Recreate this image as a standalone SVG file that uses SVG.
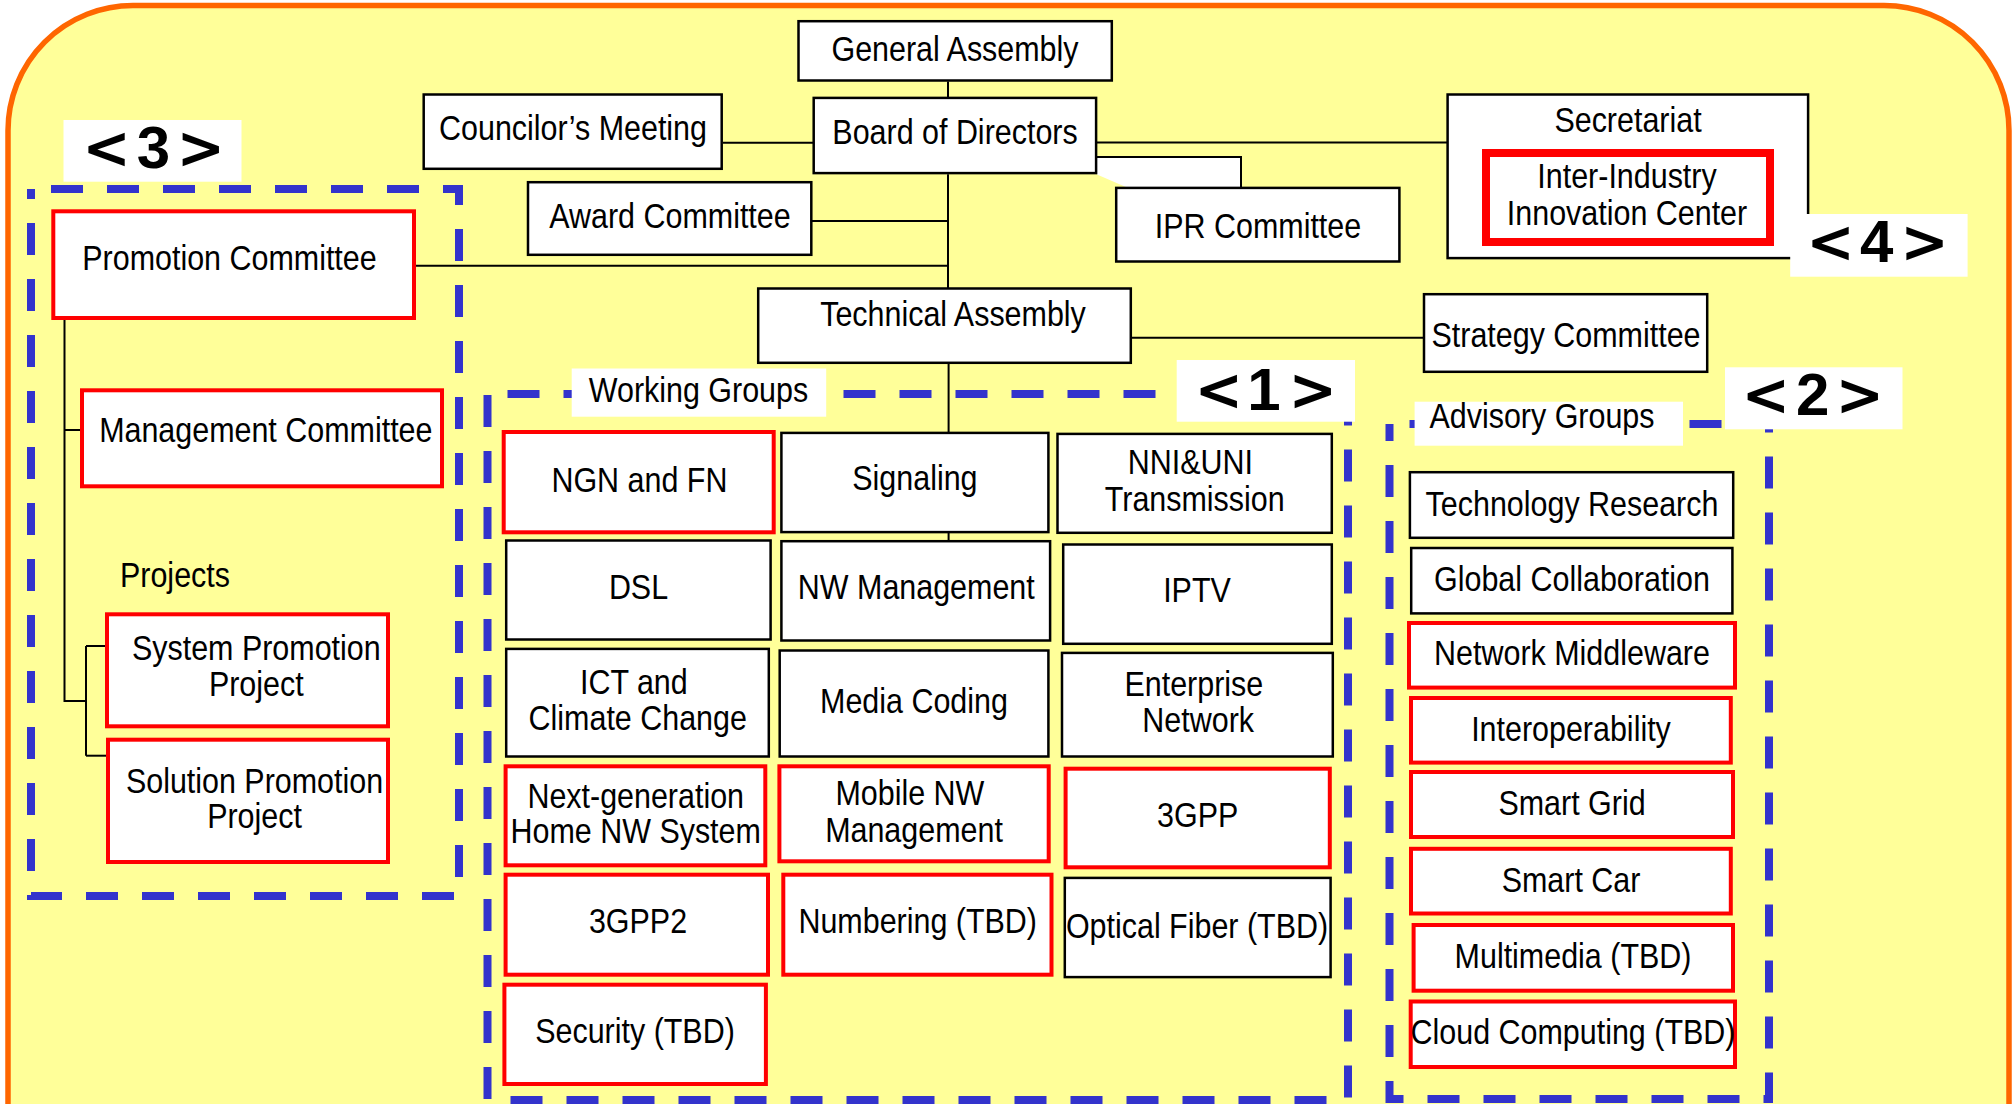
<svg xmlns="http://www.w3.org/2000/svg" width="2013" height="1104" viewBox="0 0 2013 1104">
  <style>
    .frame { fill: #FFFF99; stroke: #FF6600; stroke-width: 5.5; }
    .box { fill: #FFFFFF; stroke: #000000; stroke-width: 2.5; }
    .rbox { fill: #FFFFFF; stroke: #FF0000; stroke-width: 4; }
    .rbox-thick { fill: none; stroke: #FF0000; stroke-width: 8; }
    .grp { fill: none; stroke: #3333CC; stroke-width: 8; stroke-dasharray: 32 24; stroke-dashoffset: 36; }
    .tag { fill: #FFFFFF; }
    .ln { fill: none; stroke: #000000; stroke-width: 2; }
    .t { font-family: "Liberation Sans", Arial, sans-serif; font-size: 35px; fill: #000000; text-anchor: middle; }
    .ts { font-family: "Liberation Sans", Arial, sans-serif; font-size: 35px; fill: #000000; text-anchor: start; }
    .num { font-family: "Liberation Sans", Arial, sans-serif; font-weight: bold; font-size: 60px; fill: #000000; text-anchor: middle; }
    .br { font-family: "DejaVu Sans", sans-serif; font-weight: bold; font-size: 58px; }
  </style>

  <!-- background panel -->
  <rect x="0" y="0" width="2013" height="1104" fill="#FFFFFF"/>
  <rect class="frame" x="8" y="5.5" width="2001" height="1300" rx="125" ry="125"/>

  <!-- connectors -->
  <g id="connectors">
    <polygon points="1097,157 1241,157 1241,187.5 1127,187.5 1097,174.5" fill="#FFFFFF"/>
    <path class="ln" d="M948 81.5 V97.9"/>
    <path class="ln" d="M948 174.3 V288.5"/>
    <path class="ln" d="M723 142.7 H813.7"/>
    <path class="ln" d="M811.3 221 H948"/>
    <path class="ln" d="M414 265.7 H948"/>
    <path class="ln" d="M1096.1 142.5 H1447.6"/>
    <path class="ln" d="M1096.1 157 H1241 V187.9"/>
    <path class="ln" d="M1130.8 337.7 H1424"/>
    <path class="ln" d="M948.6 362.8 V432.9"/>
    <path class="ln" d="M948.6 532.1 V541.2"/>
    <path class="ln" d="M64.5 318 V701 H86"/>
    <path class="ln" d="M64.5 430 H82"/>
    <path class="ln" d="M86 646 V755.7"/>
    <path class="ln" d="M86 646 H107"/>
    <path class="ln" d="M86 755.7 H108"/>
  </g>

  <!-- group frames -->
  <g id="group-frames">
    <rect class="grp" x="31" y="189" width="428" height="707"/>
    <rect class="grp" x="487.5" y="394" width="860.5" height="706"/>
    <rect class="grp" x="1389.5" y="424" width="379.5" height="675"/>
  </g>

  <!-- governance -->
  <g id="general-assembly">
    <rect class="box" x="798.5" y="21.2" width="313.3" height="59.3"/>
    <text class="t" transform="translate(955 61) scale(.87 1)">General Assembly</text>
  </g>
  <g id="board-of-directors">
    <rect class="box" x="813.7" y="97.9" width="282.4" height="75.2"/>
    <text class="t" transform="translate(955 144) scale(.87 1)">Board of Directors</text>
  </g>
  <g id="councilors-meeting">
    <rect class="box" x="423.7" y="94.5" width="298" height="74.3"/>
    <text class="t" transform="translate(573 140) scale(.87 1)">Councilor’s Meeting</text>
  </g>
  <g id="award-committee">
    <rect class="box" x="528" y="182.2" width="283.3" height="72.6"/>
    <text class="t" transform="translate(670 228) scale(.87 1)">Award Committee</text>
  </g>
  <g id="ipr-committee">
    <rect class="box" x="1116.2" y="187.9" width="283.2" height="73.6"/>
    <text class="t" transform="translate(1258 238) scale(.87 1)">IPR Committee</text>
  </g>
  <g id="secretariat">
    <rect class="box" x="1447.6" y="94.5" width="360.5" height="163.6"/>
    <text class="t" transform="translate(1628 132) scale(.87 1)">Secretariat</text>
  </g>
  <g id="innovation-center">
    <rect class="rbox-thick" x="1486" y="153" width="284" height="89"/>
    <text class="t" transform="translate(1627 188) scale(.87 1)"><tspan x="0" y="0">Inter-Industry</tspan><tspan x="0" y="37">Innovation Center</tspan></text>
  </g>
  <g id="technical-assembly">
    <rect class="box" x="758.2" y="288.5" width="372.6" height="74.3"/>
    <text class="t" transform="translate(953 326) scale(.87 1)">Technical Assembly</text>
  </g>
  <g id="strategy-committee">
    <rect class="box" x="1424" y="294.2" width="283.2" height="77.6"/>
    <text class="t" transform="translate(1566 347) scale(.87 1)">Strategy Committee</text>
  </g>

  <!-- promotion side -->
  <g id="promotion-committee">
    <rect class="rbox" x="53.3" y="211.3" width="360.7" height="106.7"/>
    <text class="t" transform="translate(229.5 270) scale(.87 1)">Promotion Committee</text>
  </g>
  <g id="management-committee">
    <rect class="rbox" x="82" y="390.3" width="360" height="96"/>
    <text class="t" transform="translate(265.8 441.7) scale(.87 1)">Management Committee</text>
  </g>
  <g id="projects-label">
    <text class="ts" transform="translate(120 587.3) scale(.87 1)">Projects</text>
  </g>
  <g id="system-promotion-project">
    <rect class="rbox" x="107" y="614.3" width="281" height="112"/>
    <text class="t" transform="translate(256.3 659.5) scale(.87 1)"><tspan x="0" y="0">System Promotion</tspan><tspan x="0" y="37">Project</tspan></text>
  </g>
  <g id="solution-promotion-project">
    <rect class="rbox" x="108" y="739.7" width="280" height="122.3"/>
    <text class="t" transform="translate(254.5 792.7) scale(.87 1)"><tspan x="0" y="0">Solution Promotion</tspan><tspan x="0" y="35.5">Project</tspan></text>
  </g>

  <!-- working groups -->
  <g id="wg-ngn-fn">
    <rect class="rbox" x="503.7" y="432" width="270" height="100.3"/>
    <text class="t" transform="translate(639.4 491.7) scale(.87 1)">NGN and FN</text>
  </g>
  <g id="wg-signaling">
    <rect class="box" x="781.4" y="432.9" width="267" height="99.2"/>
    <text class="t" transform="translate(914.9 490) scale(.87 1)">Signaling</text>
  </g>
  <g id="wg-nni-uni">
    <rect class="box" x="1057.5" y="433.9" width="274.3" height="98.9"/>
    <text class="t" transform="translate(1193 474.3) scale(.87 1)"><tspan x="-3" y="0">NNI&amp;UNI</tspan><tspan x="2" y="36.4">Transmission</tspan></text>
  </g>
  <g id="wg-dsl">
    <rect class="box" x="506.2" y="540.5" width="264.4" height="99"/>
    <text class="t" transform="translate(638.5 599) scale(.87 1)">DSL</text>
  </g>
  <g id="wg-nw-management">
    <rect class="box" x="781.4" y="541.2" width="268.7" height="99.3"/>
    <text class="t" transform="translate(916.3 599) scale(.87 1)">NW Management</text>
  </g>
  <g id="wg-iptv">
    <rect class="box" x="1063.2" y="544.5" width="268.6" height="99.3"/>
    <text class="t" transform="translate(1197 602.3) scale(.87 1)">IPTV</text>
  </g>
  <g id="wg-ict-climate">
    <rect class="box" x="506.2" y="648.9" width="262.6" height="107.6"/>
    <text class="t" transform="translate(636 693.5) scale(.87 1)"><tspan x="-2.5" y="0">ICT and</tspan><tspan x="2" y="36.5">Climate Change</tspan></text>
  </g>
  <g id="wg-media-coding">
    <rect class="box" x="779.7" y="650.5" width="268.7" height="106"/>
    <text class="t" transform="translate(914 712.7) scale(.87 1)">Media Coding</text>
  </g>
  <g id="wg-enterprise">
    <rect class="box" x="1062" y="652.9" width="270.8" height="103.6"/>
    <text class="t" transform="translate(1196 696) scale(.87 1)"><tspan x="-2.5" y="0">Enterprise</tspan><tspan x="2.5" y="35.7">Network</tspan></text>
  </g>
  <g id="wg-home-nw">
    <rect class="rbox" x="505.6" y="766.3" width="259.7" height="99"/>
    <text class="t" transform="translate(635.7 807.7) scale(.87 1)"><tspan x="0" y="0">Next-generation</tspan><tspan x="0" y="35.6">Home NW System</tspan></text>
  </g>
  <g id="wg-mobile-nw">
    <rect class="rbox" x="779.4" y="766.3" width="269.3" height="95"/>
    <text class="t" transform="translate(912 805) scale(.87 1)"><tspan x="-2.5" y="0">Mobile NW</tspan><tspan x="2.3" y="36.7">Management</tspan></text>
  </g>
  <g id="wg-3gpp">
    <rect class="rbox" x="1065.6" y="768.7" width="264.2" height="98.6"/>
    <text class="t" transform="translate(1197.7 826.7) scale(.87 1)">3GPP</text>
  </g>
  <g id="wg-3gpp2">
    <rect class="rbox" x="505.6" y="874.7" width="262.4" height="100"/>
    <text class="t" transform="translate(638 933.3) scale(.87 1)">3GPP2</text>
  </g>
  <g id="wg-numbering">
    <rect class="rbox" x="783.3" y="874.7" width="268.2" height="100"/>
    <text class="t" transform="translate(917.7 933.3) scale(.87 1)">Numbering (TBD)</text>
  </g>
  <g id="wg-optical-fiber">
    <rect class="box" x="1064.8" y="877.9" width="265.8" height="99.2"/>
    <text class="t" transform="translate(1197 938.3) scale(.87 1)">Optical Fiber (TBD)</text>
  </g>
  <g id="wg-security">
    <rect class="rbox" x="504.4" y="984.7" width="261.5" height="99.3"/>
    <text class="t" transform="translate(635 1043.3) scale(.87 1)">Security (TBD)</text>
  </g>

  <!-- advisory groups -->
  <g id="ag-technology-research">
    <rect class="box" x="1409.9" y="472.2" width="323.3" height="65.6"/>
    <text class="t" transform="translate(1572 515.8) scale(.87 1)">Technology Research</text>
  </g>
  <g id="ag-global-collaboration">
    <rect class="box" x="1411.2" y="548" width="321.2" height="65.4"/>
    <text class="t" transform="translate(1572 590.8) scale(.87 1)">Global Collaboration</text>
  </g>
  <g id="ag-network-middleware">
    <rect class="rbox" x="1409" y="623" width="326" height="64.6"/>
    <text class="t" transform="translate(1572 665) scale(.87 1)">Network Middleware</text>
  </g>
  <g id="ag-interoperability">
    <rect class="rbox" x="1411" y="698" width="319.8" height="64.6"/>
    <text class="t" transform="translate(1571 741) scale(.87 1)">Interoperability</text>
  </g>
  <g id="ag-smart-grid">
    <rect class="rbox" x="1411" y="772" width="322" height="65"/>
    <text class="t" transform="translate(1572 815.4) scale(.87 1)">Smart Grid</text>
  </g>
  <g id="ag-smart-car">
    <rect class="rbox" x="1411" y="848.8" width="319.8" height="64.7"/>
    <text class="t" transform="translate(1571 891.7) scale(.87 1)">Smart Car</text>
  </g>
  <g id="ag-multimedia">
    <rect class="rbox" x="1413.6" y="925" width="319.4" height="65.7"/>
    <text class="t" transform="translate(1573 968) scale(.87 1)">Multimedia (TBD)</text>
  </g>
  <g id="ag-cloud-computing">
    <rect class="rbox" x="1410.7" y="1001.5" width="324.3" height="65.5"/>
    <text class="t" transform="translate(1573 1044) scale(.87 1)">Cloud Computing (TBD)</text>
  </g>

  <!-- group captions and numbered tags -->
  <g id="working-groups-label">
    <rect class="tag" x="571.7" y="368.5" width="254.5" height="48.2"/>
    <text class="t" transform="translate(698.5 402) scale(.87 1)">Working Groups</text>
  </g>
  <g id="advisory-groups-label">
    <rect class="tag" x="1414.6" y="401.7" width="268.4" height="44"/>
    <text class="t" transform="translate(1542 428) scale(.87 1)">Advisory Groups</text>
  </g>
  <g id="tag-3">
    <rect class="tag" x="63.5" y="120" width="178" height="61.7"/>
    <text class="num"><tspan class="br" x="106.5" y="168.3">&lt;</tspan><tspan x="153.5" y="168.3">3</tspan><tspan class="br" x="200.8" y="168.3">&gt;</tspan></text>
  </g>
  <g id="tag-1">
    <rect class="tag" x="1176.7" y="360" width="178.3" height="61.7"/>
    <text class="num"><tspan class="br" x="1218.7" y="410">&lt;</tspan><tspan x="1264" y="410">1</tspan><tspan class="br" x="1312.8" y="410">&gt;</tspan></text>
  </g>
  <g id="tag-2">
    <rect class="tag" x="1725" y="367.3" width="177.5" height="62"/>
    <text class="num"><tspan class="br" x="1765.7" y="415">&lt;</tspan><tspan x="1812.8" y="415">2</tspan><tspan class="br" x="1859.7" y="415">&gt;</tspan></text>
  </g>
  <g id="tag-4">
    <rect class="tag" x="1790.2" y="214" width="177.4" height="62.7"/>
    <text class="num"><tspan class="br" x="1830.5" y="262">&lt;</tspan><tspan x="1876.7" y="262">4</tspan><tspan class="br" x="1924.6" y="262">&gt;</tspan></text>
  </g>
</svg>
